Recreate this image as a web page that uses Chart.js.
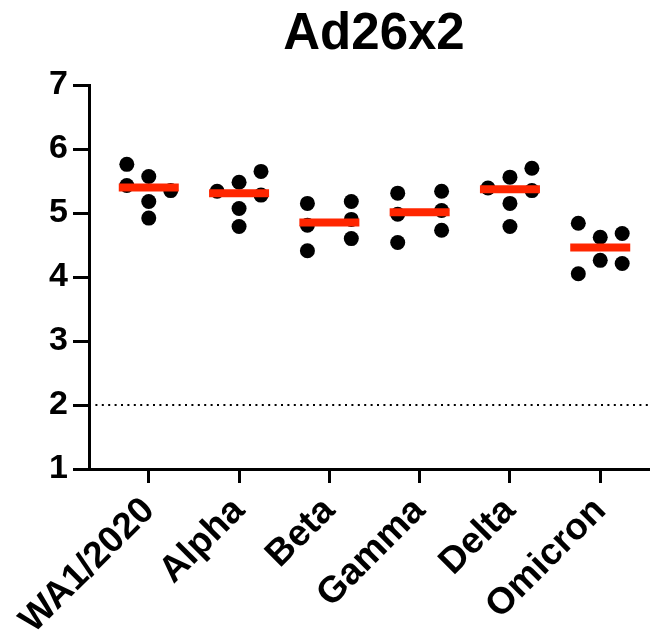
<!DOCTYPE html>
<html lang="en">
<head>
    <meta charset="UTF-8">
    <title>Ad26x2</title>
    <script src="https://cdn.jsdelivr.net/npm/chart.js"></script>
    <style>
        body {
            margin: 0;
            padding: 0;
            background: #fff;
        }
        #box {
            width: 651px;
            height: 634px;
        }
    </style>
</head>
<body>
    <div id="box">
        <canvas id="grafico" width="651" height="634"></canvas>
    </div>

    <script>
        // Variants on the x axis
        const categories = ["WA1/2020", "Alpha", "Beta", "Gamma", "Delta", "Omicron"];

        // Individual values (log10 titres)
        const wa1 = [5.76, 5.43, 5.57, 5.18, 4.92, 5.35];
        const alpha = [5.34, 5.48, 5.07, 4.79, 5.65, 5.28];
        const beta = [5.15, 4.81, 4.41, 5.18, 4.90, 4.60];
        const gamma = [5.31, 4.98, 4.54, 5.34, 5.04, 4.73];
        const delta = [5.39, 5.56, 5.15, 4.79, 5.70, 5.35];
        const omicron = [4.84, 4.05, 4.62, 4.26, 4.68, 4.21];

        // which column each dot sits in (-1 left, 0 middle, 1 right)
        const wa1Col = [-1, -1, 0, 0, 0, 1];
        const alphaCol = [-1, 0, 0, 0, 1, 1];
        const betaCol = [-1, -1, -1, 1, 1, 1];
        const gammaCol = [-1, -1, -1, 1, 1, 1];
        const deltaCol = [-1, 0, 0, 0, 1, 1];
        const omicronCol = [-1, -1, 0, 0, 1, 1];

        // median bars
        const medians = [5.40, 5.31, 4.85, 5.01, 5.37, 4.46];

        // dotted line (limit of detection)
        const limitLine = 2;

        const yTicks = [1, 2, 3, 4, 5, 6, 7];

        const groups = [wa1, alpha, beta, gamma, delta, omicron];
        const columns = [wa1Col, alphaCol, betaCol, gammaCol, deltaCol, omicronCol];

        const xMin = -0.662;
        const xMax = 5.54;
        const colStep = 0.243;

        const dots = [];
        groups.forEach((g, i) => {
            g.forEach((v, k) => {
                dots.push({ x: i + columns[i][k] * colStep, y: v });
            });
        });

        const medianPts = medians.map((m, i) => ({ x: i, y: m }));

        // titulo centrado sobre a area do grafico
        const titlePlugin = {
            id: "tituloCentro",
            afterDraw(chart) {
                const ctx = chart.ctx;
                const a = chart.chartArea;
                ctx.save();
                ctx.fillStyle = "#000";
                ctx.font = "bold 51px 'Liberation Sans', Arial, sans-serif";
                ctx.textAlign = "center";
                ctx.textBaseline = "alphabetic";
                ctx.fillText("Ad26x2", (a.left + a.right) / 2 + 5, 49);
                ctx.restore();
            }
        };

        new Chart(document.getElementById("grafico"), {
            type: "scatter",
            data: {
                datasets: [
                    {
                        label: "median",
                        data: medianPts,
                        pointStyle: "line",
                        pointRadius: 30,
                        pointBorderWidth: 8,
                        pointBorderColor: "rgb(255, 38, 0)",
                        pointBackgroundColor: "rgb(255, 38, 0)",
                        order: 0
                    },
                    {
                        label: "values",
                        data: dots,
                        pointRadius: 7.5,
                        pointBorderWidth: 0,
                        pointBackgroundColor: "#000",
                        pointBorderColor: "#000",
                        order: 1
                    },
                    {
                        type: "line",
                        label: "limit",
                        data: [{ x: xMin, y: limitLine }, { x: xMax, y: limitLine }],
                        borderColor: "#000",
                        borderWidth: 2,
                        borderDash: [2, 4.4],
                        pointRadius: 0,
                        fill: false,
                        order: 2
                    }
                ]
            },
            options: {
                responsive: false,
                animation: false,
                layout: {
                    autoPadding: false,
                    padding: { top: 85, right: 2, left: 0, bottom: 0 }
                },
                plugins: {
                    legend: { display: false },
                    tooltip: { enabled: false },
                    title: { display: false }
                },
                scales: {
                    x: {
                        type: "linear",
                        min: xMin,
                        max: xMax,
                        afterBuildTicks: (scale) => {
                            scale.ticks = categories.map((c, i) => ({ value: i }));
                        },
                        afterFit: (scale) => {
                            scale.height = 165;
                            scale.paddingLeft = 0;
                            scale.paddingRight = 0;
                        },
                        ticks: {
                            autoSkip: false,
                            minRotation: 45,
                            maxRotation: 45,
                            padding: 6,
                            color: "#000",
                            font: { family: "'Liberation Sans', Arial, sans-serif", size: 37, weight: "bold" },
                            callback: (v) => categories[v]
                        },
                        grid: {
                            drawOnChartArea: false,
                            drawTicks: true,
                            tickLength: 14,
                            tickWidth: 3,
                            tickColor: "#000"
                        },
                        border: { color: "#000", width: 3 }
                    },
                    y: {
                        min: 1,
                        max: 7,
                        afterBuildTicks: (scale) => {
                            scale.ticks = yTicks.map((t) => ({ value: t }));
                        },
                        afterFit: (scale) => {
                            scale.width = 89;
                        },
                        ticks: {
                            padding: 5,
                            color: "#000",
                            font: { family: "'Liberation Sans', Arial, sans-serif", size: 34, weight: "bold" }
                        },
                        grid: {
                            drawOnChartArea: false,
                            drawTicks: true,
                            tickLength: 16,
                            tickWidth: 3,
                            tickColor: "#000"
                        },
                        border: { color: "#000", width: 3 }
                    }
                }
            },
            plugins: [titlePlugin]
        });
    </script>
</body>
</html>
